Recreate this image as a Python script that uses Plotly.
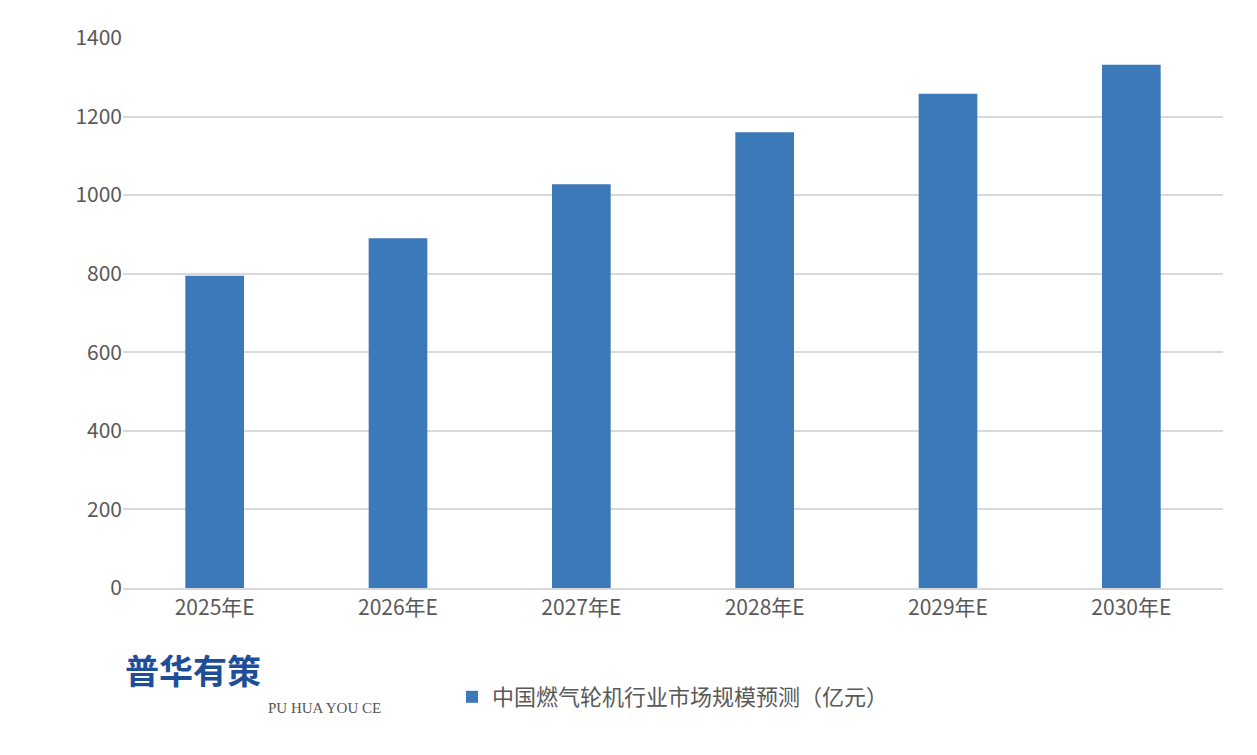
import plotly.graph_objects as go

categories = ["2025年E", "2026年E", "2027年E", "2028年E", "2029年E", "2030年E"]
values = [795, 890, 1028, 1160, 1258, 1332]
series_name = "中国燃气轮机行业市场规模预测（亿元）"

fig = go.Figure()
fig.add_trace(go.Bar(x=categories, y=values, name=series_name,
                     marker=dict(color="#3b79b9", line=dict(width=0)), width=0.32))
fig.update_layout(
    width=1257, height=755, paper_bgcolor="white", plot_bgcolor="white",
    margin=dict(l=115, r=42, t=30, b=175),
    font=dict(family="Noto Sans CJK SC, sans-serif", size=21, color="#595959"),
    showlegend=True,
    legend=dict(orientation="h", x=0.5, xanchor="center", y=-0.16, yanchor="top",
                font=dict(size=22, color="#595959")),
    yaxis=dict(range=[0, 1400], dtick=200, gridcolor="#d9d9d9", gridwidth=1.5,
               zeroline=False, showline=False, ticks="", ticklen=0,
               tickfont=dict(size=21)),
    xaxis=dict(showline=True, linecolor="#d9d9d9", linewidth=1.5, ticks="",
               tickfont=dict(size=21)),
    annotations=[
        dict(text="<b>普华有策</b>", xref="paper", yref="paper", x=0.0, y=-0.1,
             xanchor="left", yanchor="top", showarrow=False,
             font=dict(size=34, color="#1f4e99")),
        dict(text="PU HUA YOU CE", xref="paper", yref="paper", x=0.13, y=-0.2,
             xanchor="left", yanchor="top", showarrow=False,
             font=dict(size=15, color="#555", family="Liberation Serif")),
    ],
)
fig.write_html("out.html")
